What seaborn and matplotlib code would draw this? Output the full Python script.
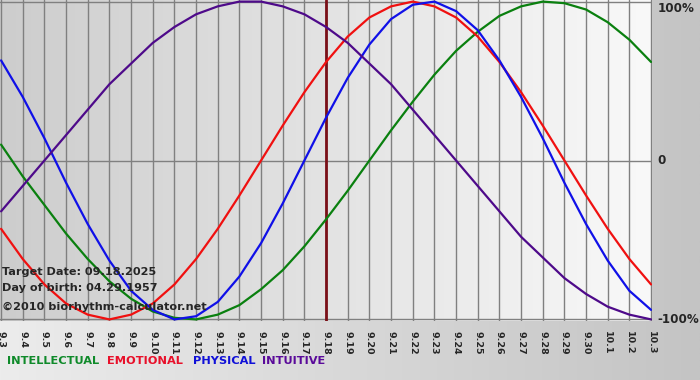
import matplotlib
matplotlib.use("Agg")
import matplotlib.pyplot as plt
import numpy as np
import pandas as pd
import seaborn as sns

# day labels 9.3 .. 10.3
DAY_LABELS = [f"9.{d}" for d in range(3, 31)] + ["10.1", "10.2", "10.3"]

# values, one per day (-1 = -100%, 1 = 100%)
INTELLECTUAL = [0.10, -0.10, -0.28, -0.46, -0.62, -0.76, -0.87, -0.95, -0.99, -1.00,
                -0.97, -0.91, -0.81, -0.69, -0.54, -0.37, -0.19, 0.00, 0.19, 0.37,
                0.54, 0.69, 0.81, 0.91, 0.97, 1.00, 0.99, 0.95, 0.87, 0.76, 0.62]
EMOTIONAL = [-0.43, -0.62, -0.78, -0.90, -0.97, -1.00, -0.97, -0.90, -0.78, -0.62,
             -0.43, -0.22, 0.00, 0.22, 0.43, 0.62, 0.78, 0.90, 0.97, 1.00,
             0.97, 0.90, 0.78, 0.62, 0.43, 0.22, 0.00, -0.22, -0.43, -0.62, -0.78]
PHYSICAL = [0.63, 0.40, 0.14, -0.14, -0.40, -0.63, -0.82, -0.94, -1.00, -0.98,
            -0.89, -0.73, -0.52, -0.27, 0.00, 0.27, 0.52, 0.73, 0.89, 0.98,
            1.00, 0.94, 0.82, 0.63, 0.40, 0.14, -0.14, -0.40, -0.63, -0.82, -0.94]
INTUITIVE = [-0.32, -0.16, 0.00, 0.16, 0.32, 0.48, 0.61, 0.74, 0.84, 0.92,
             0.97, 1.00, 1.00, 0.97, 0.92, 0.84, 0.74, 0.61, 0.48, 0.32,
             0.16, 0.00, -0.16, -0.32, -0.48, -0.61, -0.74, -0.84, -0.92, -0.97, -1.00]

TARGET_DAY = 15  # 9.18
CYCLES = ["INTELLECTUAL", "EMOTIONAL", "PHYSICAL", "INTUITIVE"]
COLORS = {"INTELLECTUAL": "#0a800f", "EMOTIONAL": "#f01010",
          "PHYSICAL": "#1010e8", "INTUITIVE": "#4e0a8a"}
TEXT_COLORS = {"INTELLECTUAL": "#0f8a2a", "EMOTIONAL": "#e8102a",
               "PHYSICAL": "#1010d8", "INTUITIVE": "#5a0a9a"}

sns.set_style("white")
plt.rcParams["font.family"] = ["DejaVu Sans"]

rows = []
for name, vals in zip(CYCLES, [INTELLECTUAL, EMOTIONAL, PHYSICAL, INTUITIVE]):
    for day, v in enumerate(vals):
        rows.append({"day": day, "value": v, "cycle": name})
df = pd.DataFrame(rows)

W, H = 700, 380
fig = plt.figure(figsize=(7, 3.8), dpi=100)

# figure background gradient
bg = fig.add_axes([0, 0, 1, 1])
bg.imshow(np.linspace(0, 1, 256)[None, :], cmap=plt.matplotlib.colors.LinearSegmentedColormap.from_list(
    "bg", ["#ececec", "#c4c4c4"]), aspect="auto", extent=[0, 1, 0, 1])
bg.set_axis_off()

ax_left, ax_right, ax_top, ax_bot = 0, 651.5, 0, 321
ax = fig.add_axes([ax_left / W, 1 - ax_bot / H, (ax_right - ax_left) / W, (ax_bot - ax_top) / H])
ax.set_facecolor("none")
ax.imshow(np.linspace(0, 1, 256)[None, :], cmap=plt.matplotlib.colors.LinearSegmentedColormap.from_list(
    "plot", ["#cdcdcd", "#f9f9f9"]), aspect="auto", extent=[0, 1, 0, 1],
    transform=ax.transAxes, zorder=0)

for d in range(len(DAY_LABELS)):
    ax.axvline(d, color="#808080", lw=1.0, zorder=1)
for yv in (-1, 0, 1):
    ax.axhline(yv, color="#808080", lw=1.0, zorder=1)
ax.axvline(TARGET_DAY, color="#7a1018", lw=2.0, zorder=2)

sns.lineplot(data=df, x="day", y="value", hue="cycle", hue_order=CYCLES,
             palette=COLORS, lw=1.6, legend=False, ax=ax, zorder=3)

ax.set_xlim(-0.05, 30.02)
ax.set_ylim(-1.01, 1.01)
for s in ax.spines.values():
    s.set_visible(False)
ax.set_xlabel("")
ax.set_ylabel("")
ax.set_yticks([])
ax.set_xticks(range(len(DAY_LABELS)))
ax.set_xticklabels(DAY_LABELS, rotation=270, fontsize=6.8, fontweight="bold")
ax.tick_params(axis="x", length=5, width=1, color="#808080", pad=2)

# right-hand percent labels
ax.text(30.3, 1.0, "100%", fontsize=8.6, fontweight="bold", va="top", ha="left", clip_on=False)
ax.text(30.3, 0.0, "0", fontsize=8.6, fontweight="bold", va="center", ha="left", clip_on=False)
ax.text(30.3, -1.0, "-100%", fontsize=8.6, fontweight="bold", va="center", ha="left", clip_on=False)

# info text inside plot
for txt, ypx in [("Target Date: 09.18.2025", 272), ("Day of birth: 04.29.1957", 288),
                 ("\u00a92010 biorhythm-calculator.net", 307)]:
    fig.text(2 / W, 1 - ypx / H, txt, fontsize=8.1, fontweight="bold", va="center", ha="left")

# colored legend words along the bottom
xpos = [7, 107, 193, 262]
for name, xp in zip(CYCLES, xpos):
    fig.text(xp / W, 1 - 361 / H, name, fontsize=8.2, fontweight="bold",
             color=TEXT_COLORS[name], va="center", ha="left")

fig.savefig("out.png", dpi=100)
